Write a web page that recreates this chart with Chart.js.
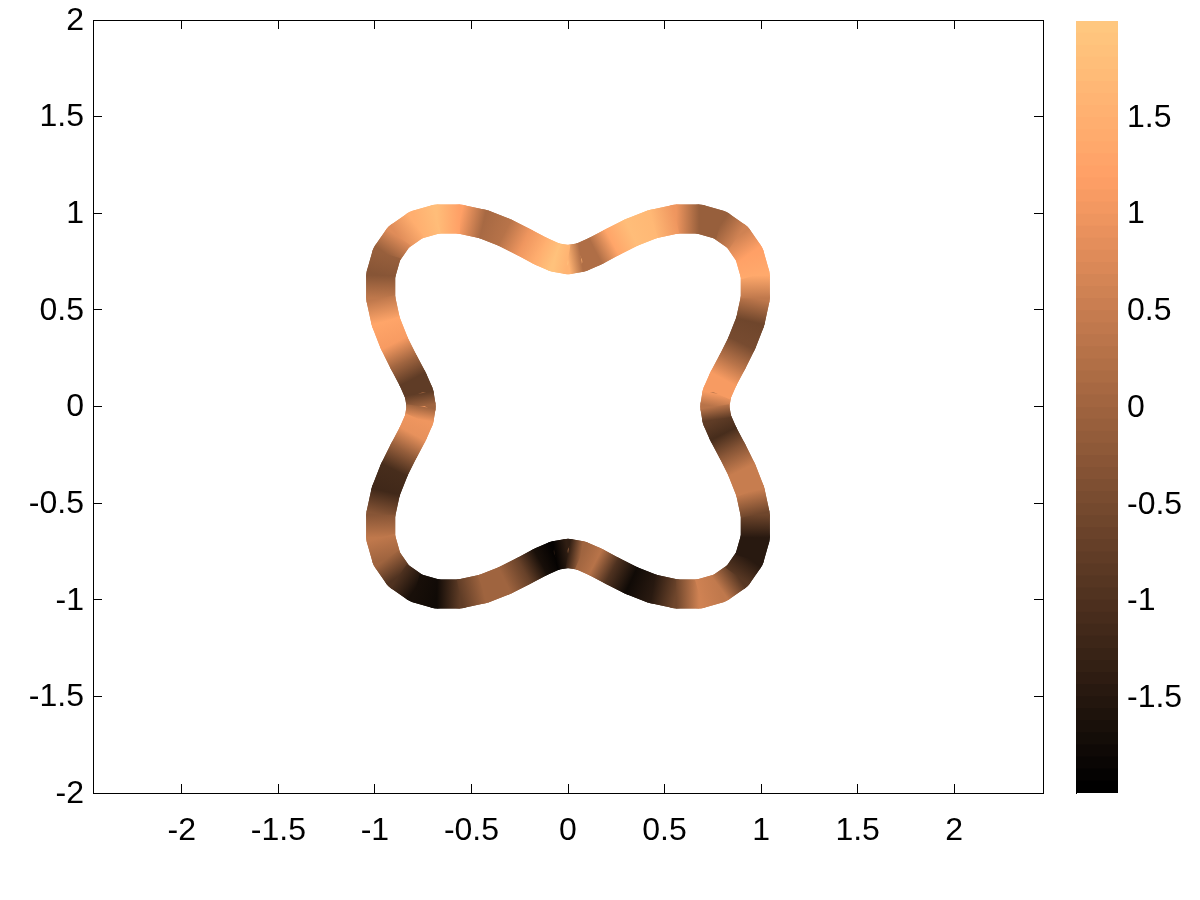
<!DOCTYPE html>
<html><head><meta charset="utf-8">
<script src="https://cdn.jsdelivr.net/npm/chart.js@4/dist/chart.umd.min.js"></script>
<style>
html,body{margin:0;padding:0;background:#fff;}
#wrap{position:relative;width:1200px;height:900px;}
canvas{position:absolute;left:0;top:0;}
</style></head><body>
<div id="wrap"><canvas id="main" width="1200" height="900"></canvas><canvas id="cbar" width="1200" height="900"></canvas></div>
<script>
// curve centre line (every 5 degrees, closed)
const curveX = [0.76,0.771,0.804,0.85,0.9,0.944,0.97,0.97,0.939,0.877,0.788,0.679,0.56,0.44,0.328,0.228,0.142,0.067,
  0,-0.067,-0.142,-0.228,-0.328,-0.44,-0.56,-0.679,-0.788,-0.877,-0.939,-0.97,-0.97,-0.944,-0.9,-0.85,-0.804,-0.771,
  -0.76,-0.771,-0.804,-0.85,-0.9,-0.944,-0.97,-0.97,-0.939,-0.877,-0.788,-0.679,-0.56,-0.44,-0.328,-0.228,-0.142,-0.067,
  0,0.067,0.142,0.228,0.328,0.44,0.56,0.679,0.788,0.877,0.939,0.97,0.97,0.944,0.9,0.85,0.804,0.771,0.76];
const curveY = [0,0.067,0.142,0.228,0.328,0.44,0.56,0.679,0.788,0.877,0.939,0.97,0.97,0.944,0.9,0.85,0.804,0.771,
  0.76,0.771,0.804,0.85,0.9,0.944,0.97,0.97,0.939,0.877,0.788,0.679,0.56,0.44,0.328,0.228,0.142,0.067,
  0,-0.067,-0.142,-0.228,-0.328,-0.44,-0.56,-0.679,-0.788,-0.877,-0.939,-0.97,-0.97,-0.944,-0.9,-0.85,-0.804,-0.771,
  -0.76,-0.771,-0.804,-0.85,-0.9,-0.944,-0.97,-0.97,-0.939,-0.877,-0.788,-0.679,-0.56,-0.44,-0.328,-0.228,-0.142,-0.067,0];
const curveV = [0.3,1.1,1.1,0.3,-0.5,-0.6,0.4,1.4,1.2,0.6,-0.1,-0.1,1.0,1.7,1.8,1.3,0.2,0.2,
  1.6,1.9,1.5,1.0,0.3,0.1,1.2,1.8,1.5,0.8,-0.1,-0.3,0.4,1.3,1.1,0.0,-0.8,-0.8,
  0.0,1.0,0.9,-0.1,-1.1,-1.2,-0.3,0.4,0.0,-1.0,-1.7,-1.8,-0.8,0.0,0.0,-0.7,-1.7,-1.95,
  -1.4,0.0,0.3,-1.0,-1.8,-1.5,-0.6,0.6,0.4,-0.9,-1.5,-1.5,-0.6,0.5,0.5,-0.3,-1.1,-0.8,0.3];
const xTicks = [-2,-1.5,-1,-0.5,0,0.5,1,1.5,2];
const yTicks = [-2,-1.5,-1,-0.5,0,0.5,1,1.5,2];
const cbTicks = [-1.5,-1,-0.5,0,0.5,1,1.5];
const xRange = [-2.46, 2.46];
const yRange = [-2, 2];
const cRange = [-1.995, 1.995];
const nColors = 64;

const FONT = {family:'"Liberation Sans", Arial, Helvetica, sans-serif', size:32};

function copper(t){
  t = Math.max(0, Math.min(1, t));
  return 'rgb(' + Math.round(255*Math.min(1,1.25*t)) + ',' + Math.round(255*0.7812*t) + ',' + Math.round(255*0.4975*t) + ')';
}
function valColor(v){ return copper((v - cRange[0])/(cRange[1]-cRange[0])); }

function axis(axId, pos, range, ticks, size, showLabels, tickLen, pad, extra){
  return Object.assign({
    type:'linear', axis:axId, position:pos, min:range[0], max:range[1],
    afterBuildTicks: s => { s.ticks = ticks.map(v => ({value:v})); },
    afterFit: s => {
      if (s.isHorizontal()) s.height = size; else s.width = size;
      s.paddingTop = 0; s.paddingBottom = 0; s.paddingLeft = 0; s.paddingRight = 0;
    },
    grid:{display:true, drawOnChartArea:false, drawTicks:true, tickLength:tickLen, color:'#000', lineWidth:1},
    border:{display:true, color:'#000', width:1},
    ticks:{display:showLabels, color:'#000', font:FONT, padding:pad, maxRotation:0, minRotation:0, autoSkip:false,
      labelOffset: (axId === 'y' ? 1 : 0), callback: v => String(v)}
  }, extra || {});
}

const pts = curveX.map((x,i) => ({x:x, y:curveY[i]}));
function segGradient(c){
  const g = c.chart.ctx.createLinearGradient(c.p0.x, c.p0.y, c.p1.x, c.p1.y);
  g.addColorStop(0, valColor(curveV[c.p0DataIndex]));
  g.addColorStop(1, valColor(curveV[c.p1DataIndex]));
  return g;
}

new Chart(document.getElementById('main'), {
  type:'scatter',
  data:{datasets:[
    { // top layer: butt-capped gradient band
      data:pts, showLine:true, pointRadius:0, pointHoverRadius:0, borderWidth:29,
      borderCapStyle:'butt', borderJoinStyle:'miter', tension:0,
      borderColor: valColor(curveV[0]), segment:{borderColor: segGradient}
    },
    { // under layer: fills the small joints between segments
      data:pts, showLine:true, pointRadius:0, pointHoverRadius:0, borderWidth:29,
      borderCapStyle:'round', borderJoinStyle:'round', tension:0,
      borderColor: valColor(curveV[0]), segment:{borderColor: segGradient}
    }
  ]},
  options:{
    responsive:false, animation:false, devicePixelRatio:1,
    layout:{padding:0},
    plugins:{legend:{display:false}, tooltip:{enabled:false}},
    scales:{
      x: axis('x','bottom', xRange, xTicks, 107, true, -9, 28),
      y: axis('y','left', yRange, yTicks, 93, true, -9, 18),
      x2: axis('x','top', xRange, xTicks, 20, false, -9, 0),
      y2: axis('y','right', yRange, yTicks, 157, false, -9, 0)
    }
  }
});

// colour bar (64-step copper map)
const cbDatasets = [];
for (let i = 0; i < nColors; i++){
  cbDatasets.push({
    data:[[cRange[0], cRange[0] + (i+1)*(cRange[1]-cRange[0])/nColors]],
    backgroundColor: copper(i/(nColors-1)), borderWidth:0,
    grouped:false, barPercentage:1, categoryPercentage:1, yAxisID:'y'
  });
}
new Chart(document.getElementById('cbar'), {
  type:'bar',
  data:{labels:['c'], datasets:cbDatasets},
  options:{
    responsive:false, animation:false, devicePixelRatio:1,
    layout:{padding:{top:21, bottom:107, left:0, right:0}},
    plugins:{legend:{display:false}, tooltip:{enabled:false}},
    scales:{
      x:{display:false, offset:true},
      y: axis('y','left', cRange, cbTicks, 1076, false, -6, 0, {z:1}),
      yR: axis('y','right', cRange, cbTicks, 82, true, -8, 17, {z:1, border:{display:false}})
    }
  }
});
</script>
</body></html>
